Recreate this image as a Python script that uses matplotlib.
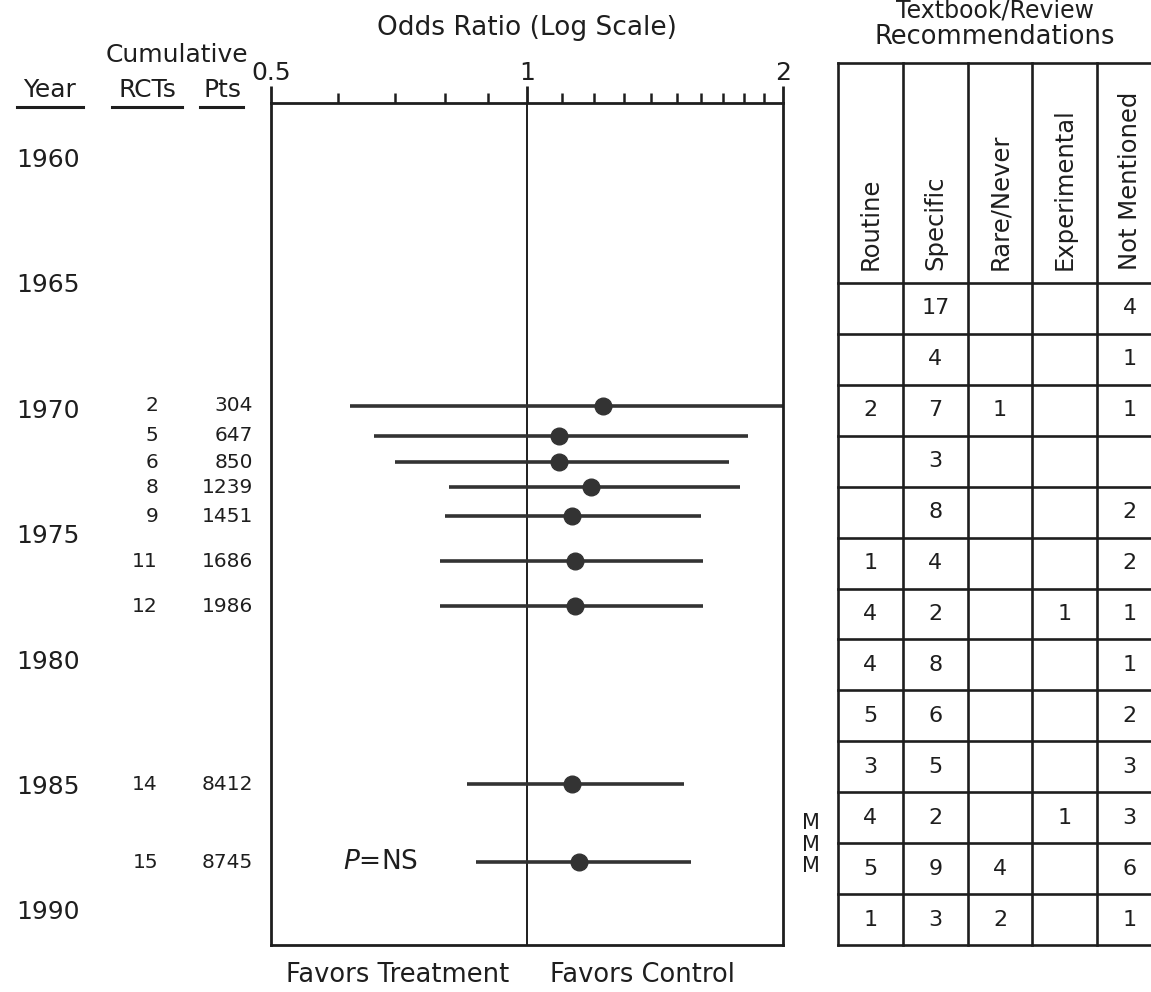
import matplotlib
matplotlib.use("Agg")
import matplotlib.pyplot as plt
from matplotlib import transforms
from matplotlib.lines import Line2D

plt.rcParams["font.family"] = ["DejaVu Sans"]

W, H = 1151, 992
INK = "#1e1e1e"

# cumulative meta-analysis rows
trial_year = [1969.8, 1971.0, 1972.05, 1973.05, 1974.2, 1976.0, 1977.8, 1984.9, 1988.0]
rcts = [2, 5, 6, 8, 9, 11, 12, 14, 15]
pts = [304, 647, 850, 1239, 1451, 1686, 1986, 8412, 8745]
odds = [1.23, 1.09, 1.09, 1.19, 1.13, 1.14, 1.14, 1.13, 1.15]
ci_lo = [0.62, 0.66, 0.70, 0.81, 0.80, 0.79, 0.79, 0.85, 0.87]
ci_hi = [2.0, 1.82, 1.73, 1.78, 1.60, 1.61, 1.61, 1.53, 1.56]

year_labels = [1960, 1965, 1970, 1975, 1980, 1985, 1990]

# textbook / review recommendations table
table_cols = ["Routine", "Specific", "Rare/Never", "Experimental", "Not Mentioned"]
table_rows = [
    ["", "17", "", "", "4"],
    ["", "4", "", "", "1"],
    ["2", "7", "1", "", "1"],
    ["", "3", "", "", ""],
    ["", "8", "", "", "2"],
    ["1", "4", "", "", "2"],
    ["4", "2", "", "1", "1"],
    ["4", "8", "", "", "1"],
    ["5", "6", "", "", "2"],
    ["3", "5", "", "", "3"],
    ["4", "2", "", "1", "3"],
    ["5", "9", "4", "", "6"],
    ["1", "3", "2", "", "1"],
]


def fx(px):
    return px / W


def fy(py):
    return 1 - py / H


def main():
    fig = plt.figure(figsize=(W / 100, H / 100), dpi=100)

    # forest plot
    ax = fig.add_axes([fx(271), fy(945), fx(783 - 271), (945 - 103) / H])
    ax.set_xscale("log")
    ax.set_xlim(0.5, 2)
    ax.set_ylim(1991.3, 1957.73)
    ax.xaxis.tick_top()
    ax.set_xticks([0.5, 1, 2])
    ax.set_xticklabels(["0.5", "1", "2"])
    ax.set_xticks([0.6, 0.7, 0.8, 0.9, 1.1, 1.2, 1.3, 1.4, 1.5, 1.6, 1.7, 1.8, 1.9], minor=True)
    ax.xaxis.set_minor_formatter(matplotlib.ticker.NullFormatter())
    ax.tick_params(axis="x", which="major", length=12, width=2, labelsize=18,
                   pad=1, colors=INK)
    ax.tick_params(axis="x", which="minor", length=7, width=1.8, colors=INK)
    ax.set_yticks([])
    for s in ax.spines.values():
        s.set_linewidth(2)
        s.set_color(INK)
    ax.axvline(1, color=INK, lw=1.4)

    ax.hlines(trial_year, ci_lo, ci_hi, color="#333333", lw=2.6)
    ax.plot(odds, trial_year, "o", color="#333333", ms=12, zorder=3)

    ax.text(0.672, 1988.0, "$P$=NS", fontsize=19, color=INK, va="center", ha="center")

    tr = transforms.blended_transform_factory(fig.transFigure, ax.transData)
    for yr in year_labels:
        fig.text(fx(16), yr, str(yr), transform=tr, fontsize=18, color=INK,
                 ha="left", va="center")
    for y, r, p in zip(trial_year, rcts, pts):
        fig.text(fx(158), y, str(r), transform=tr, fontsize=14.5, color=INK,
                 ha="right", va="center")
        fig.text(fx(253), y, str(p), transform=tr, fontsize=14.5, color=INK,
                 ha="right", va="center")

    # headers
    fig.text(fx(527), fy(28), "Odds Ratio (Log Scale)", fontsize=19, color=INK,
             ha="center", va="center")
    fig.text(fx(177), fy(55), "Cumulative", fontsize=18, color=INK, ha="center", va="center")
    fig.text(fx(50), fy(90), "Year", fontsize=18, color=INK, ha="center", va="center")
    fig.text(fx(147), fy(90), "RCTs", fontsize=18, color=INK, ha="center", va="center")
    fig.text(fx(222), fy(90), "Pts", fontsize=18, color=INK, ha="center", va="center")
    for x0, x1 in [(17, 83), (112, 182), (200, 243)]:
        fig.add_artist(Line2D([fx(x0), fx(x1)], [fy(107), fy(107)], color=INK, lw=2.2))

    fig.text(fx(398), fy(975), "Favors Treatment", fontsize=18.5, color=INK,
             ha="center", va="center")
    fig.text(fx(642), fy(975), "Favors Control", fontsize=18.5, color=INK,
             ha="center", va="center")

    # table
    n_rows = len(table_rows)
    n_cols = len(table_cols)
    row_px = (945 - 283) / n_rows
    head = (283 - 63) / row_px
    tax = fig.add_axes([fx(838), fy(945), fx(n_cols * 64.8), (945 - 63) / H])
    tax.set_xlim(0, n_cols)
    tax.set_ylim(n_rows, -head)
    tax.axis("off")
    for i in range(n_rows + 1):
        tax.plot([0, n_cols], [i, i], color=INK, lw=1.9, clip_on=False)
    tax.plot([0, n_cols], [-head, -head], color=INK, lw=1.9, clip_on=False)
    for j in range(n_cols + 1):
        tax.plot([j, j], [-head, n_rows], color=INK, lw=1.9, clip_on=False)
    for j, name in enumerate(table_cols):
        tax.text(j + 0.5, -0.25, name, rotation=90, fontsize=17.5, color=INK,
                 ha="center", va="bottom")
    for i, row in enumerate(table_rows):
        for j, val in enumerate(row):
            if val:
                tax.text(j + 0.5, i + 0.5, val, fontsize=16, color=INK,
                         ha="center", va="center")

    fig.text(fx(995), fy(10), "Textbook/Review", fontsize=17, color=INK,
             ha="center", va="center")
    fig.text(fx(995), fy(37), "Recommendations", fontsize=18.5, color=INK,
             ha="center", va="center")
    for yy in [823, 845, 866]:
        fig.text(fx(811), fy(yy), "M", fontsize=15, color=INK, ha="center", va="center")

    fig.savefig("out.png", dpi=100)


if __name__ == "__main__":
    main()
